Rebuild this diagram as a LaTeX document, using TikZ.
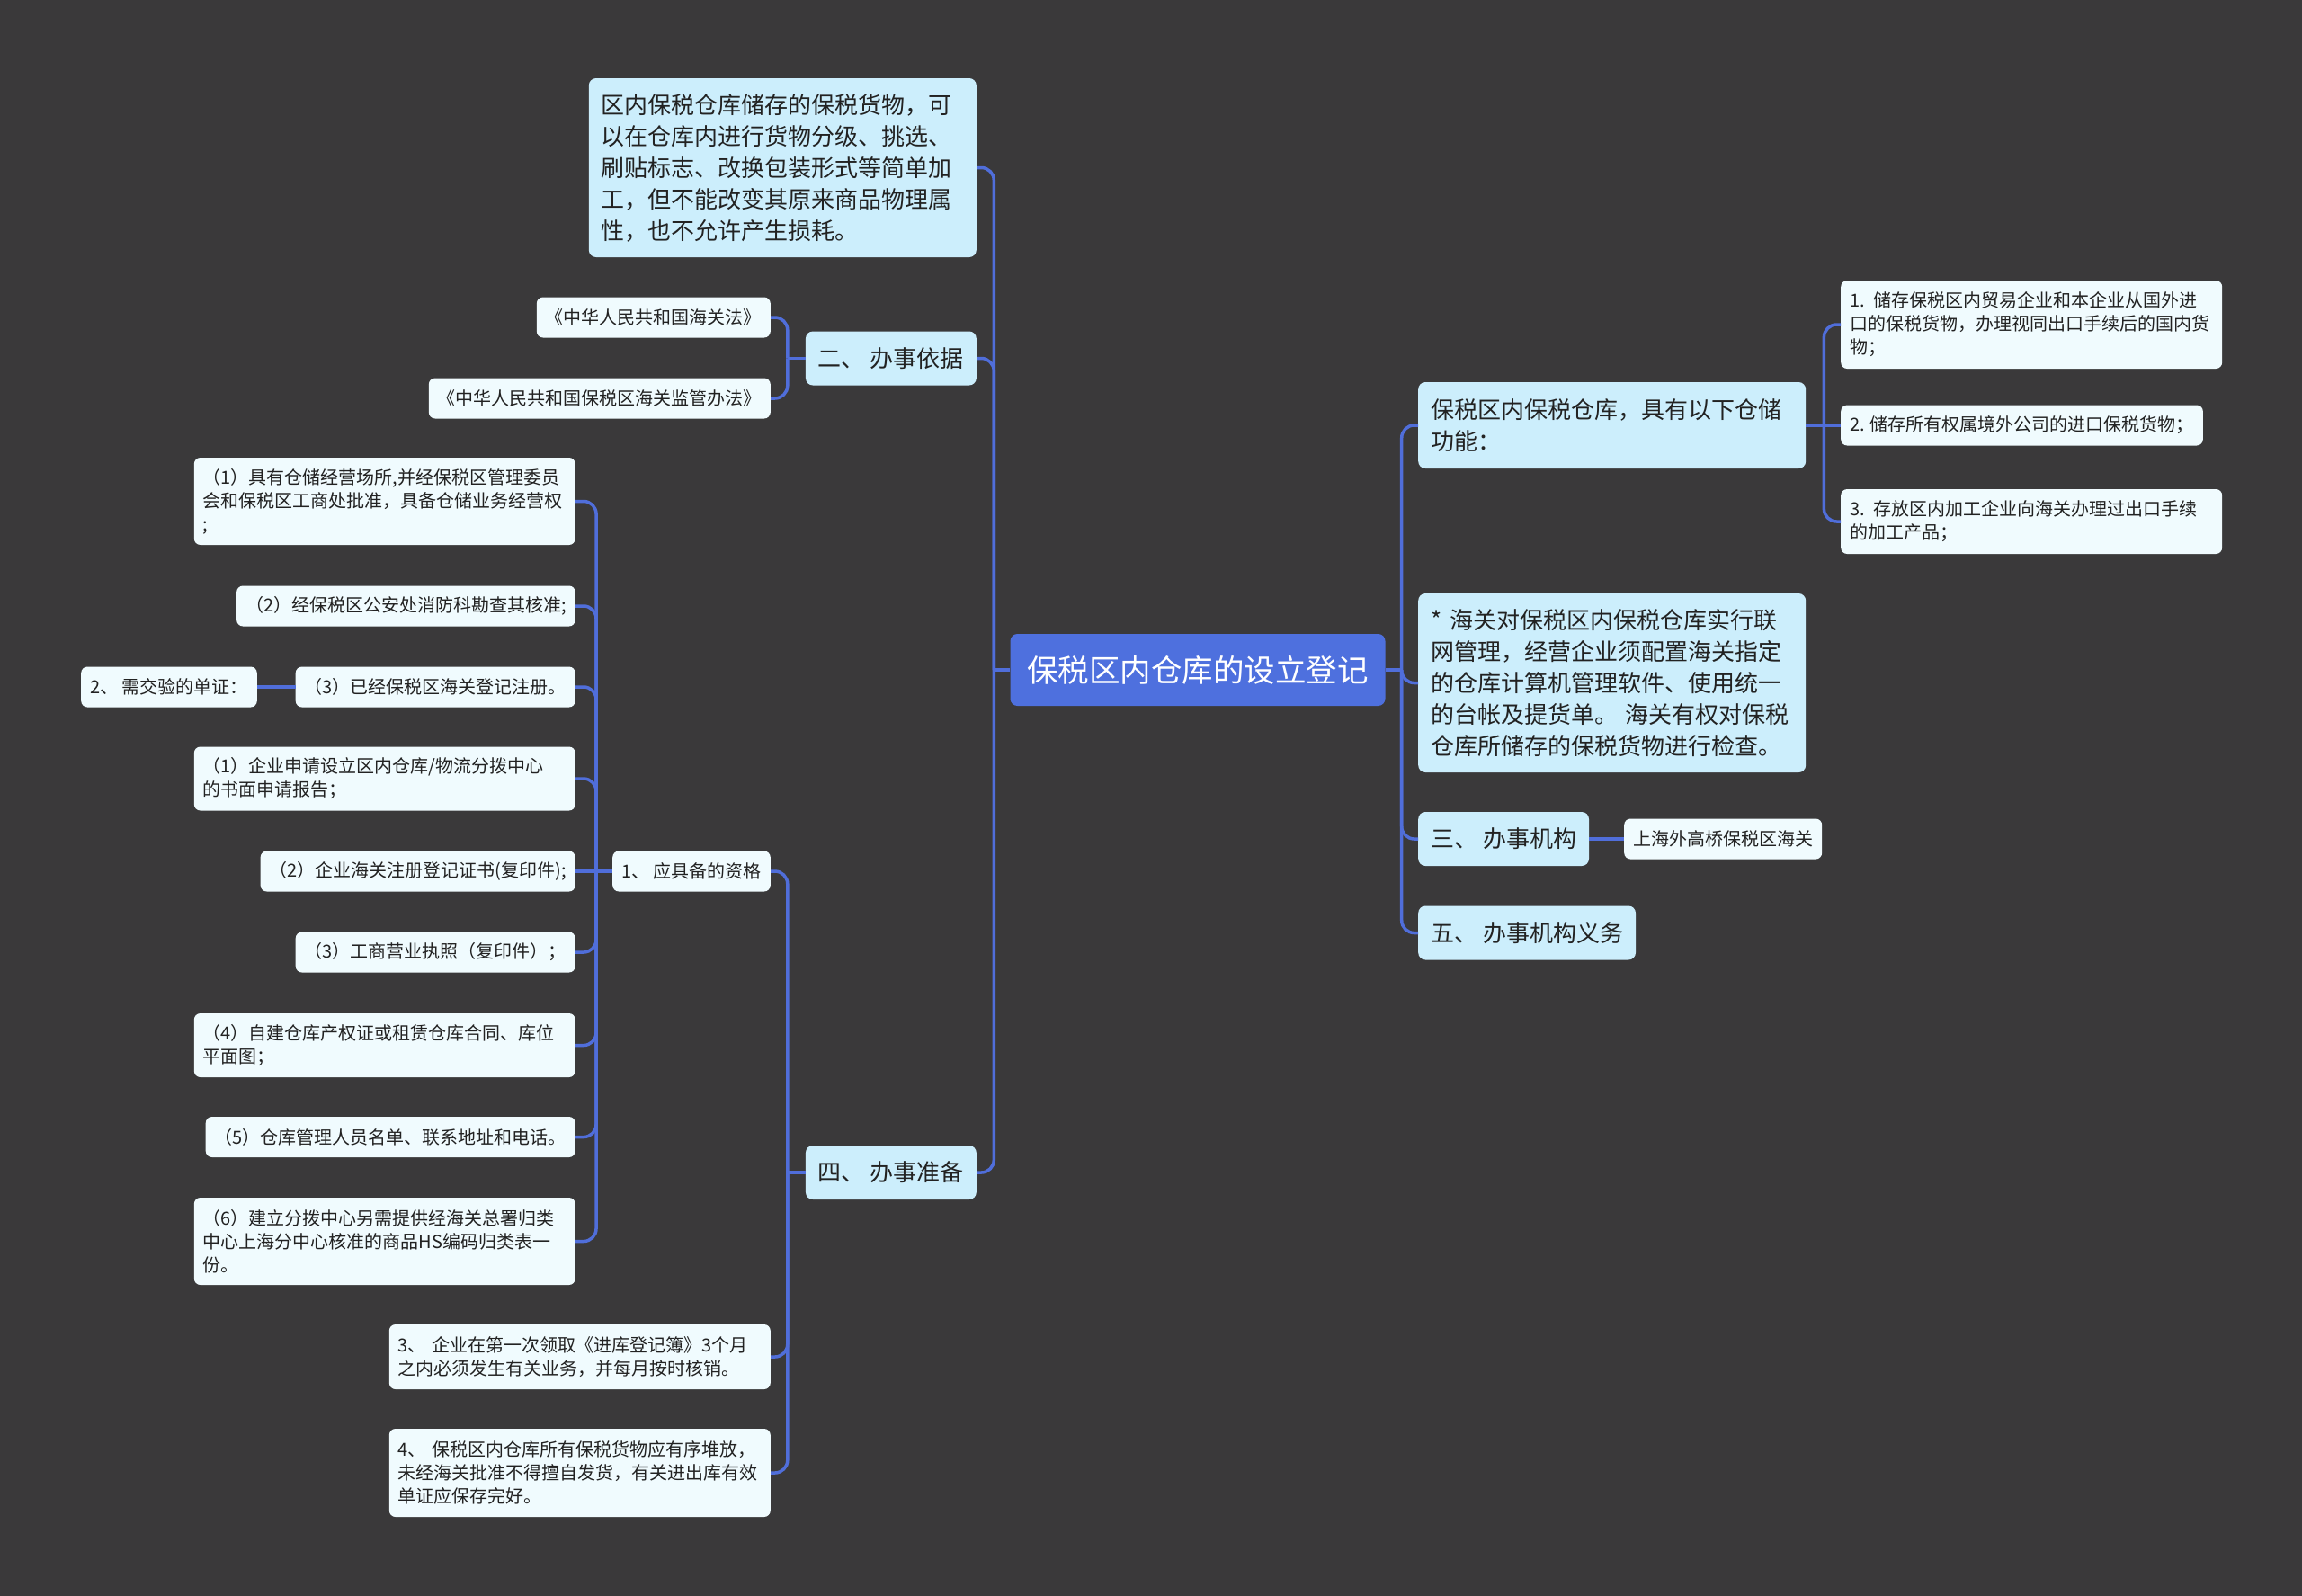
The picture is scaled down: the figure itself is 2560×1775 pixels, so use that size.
\documentclass[tikz,border=0pt]{standalone}
\usepackage{fontspec}
\setmainfont{Noto Sans CJK SC}
\definecolor{bgcol}{RGB}{58,57,58}
\definecolor{rootcol}{RGB}{78,112,222}
\definecolor{topiccol}{RGB}{204,238,252}
\definecolor{leafcol}{RGB}{240,251,254}
\definecolor{linkcol}{RGB}{80,110,218}
\definecolor{inkcol}{RGB}{34,34,34}
\begin{document}
\begin{tikzpicture}[x=1pt, y=-1pt,
  root/.style={fill=rootcol, text=white, rounded corners=8pt, font=\fontsize{34.5}{40}\selectfont, inner xsep=14pt, inner ysep=0pt, minimum width=417pt, minimum height=80pt},
  topic/.style={fill=topiccol, text=inkcol, rounded corners=8pt, font=\fontsize{26}{35}\selectfont, inner xsep=14pt, inner ysep=0pt, minimum height=#1},
  topic/.default=60pt,
  topicpar/.style={topic=#1, text width=403pt, align=left},
  leaf/.style={fill=leafcol, text=inkcol, rounded corners=7pt, font=\fontsize{20}{26}\selectfont, inner xsep=10pt, inner ysep=0pt, minimum height=#1},
  leaf/.default=45pt,
  leafpar/.style={leaf=#1, text width=404pt, align=left},
  link/.style={draw=linkcol, line width=3.5pt, rounded corners=14pt}]
  \fill[bgcol] (0,0) rectangle (2560,1775);
  \useasboundingbox (0,0) rectangle (2560,1775);

  \node[root] (root) at (1332,745) {保税区内仓库的设立登记};

  \node[topicpar=199pt, anchor=east] (qunei) at (1086,186.5) {区内保税仓库储存的保税货物，可\\以在仓库内进行货物分级、挑选、\\刷贴标志、改换包装形式等简单加\\工，但不能改变其原来商品物理属\\性，也不允许产生损耗。};
  \node[topic, anchor=east] (yiju) at (1086,398.5) {二、 办事依据};
  \node[leaf, anchor=east] (fa1) at (857,353) {《中华人民共和国海关法》};
  \node[leaf, anchor=east] (fa2) at (857,443) {《中华人民共和国保税区海关监管办法》};
  \node[topic, anchor=east] (zhunbei) at (1086,1304) {四、 办事准备};
  \node[leaf, anchor=east] (zige) at (857,969) {1、 应具备的资格};
  \node[leafpar=72pt, anchor=east] (lingqu) at (857,1509) {3、 企业在第一次领取《进库登记簿》3个月\\之内必须发生有关业务，并每月按时核销。};
  \node[leafpar=98pt, anchor=east] (duifang) at (857,1638) {4、 保税区内仓库所有保税货物应有序堆放，\\未经海关批准不得擅自发货，有关进出库有效\\单证应保存完好。};

  \node[leafpar=97pt, anchor=east] (z1) at (640,557.5) {（1）具有仓储经营场所,并经保税区管理委员\\会和保税区工商处批准，具备仓储业务经营权\\;};
  \node[leaf, anchor=east] (z2) at (640,674) {（2）经保税区公安处消防科勘查其核准;};
  \node[leaf, anchor=east] (z3) at (640,764) {（3）已经保税区海关登记注册。};
  \node[leaf, anchor=east] (danzheng) at (286,764) {2、 需交验的单证：};
  \node[leafpar=71pt, anchor=east] (d1) at (640,866) {（1）企业申请设立区内仓库/物流分拨中心\\的书面申请报告；};
  \node[leaf, anchor=east] (d2) at (640,969) {（2）企业海关注册登记证书(复印件);};
  \node[leaf, anchor=east] (d3) at (640,1059) {（3）工商营业执照（复印件）；};
  \node[leafpar=71pt, anchor=east] (d4) at (640,1162.5) {（4）自建仓库产权证或租赁仓库合同、库位\\平面图；};
  \node[leaf, anchor=east] (d5) at (640,1264.5) {（5）仓库管理人员名单、联系地址和电话。};
  \node[leafpar=97pt, anchor=east] (d6) at (640,1380.5) {（6）建立分拨中心另需提供经海关总署归类\\中心上海分中心核准的商品HS编码归类表一\\份。};

  \node[topicpar=96pt, anchor=west] (gongneng) at (1577,473) {保税区内保税仓库，具有以下仓储\\功能：};
  \node[leafpar=98pt, anchor=west] (gn1) at (2047,361) {1. 储存保税区内贸易企业和本企业从国外进\\口的保税货物，办理视同出口手续后的国内货\\物；};
  \node[leaf, anchor=west] (gn2) at (2047,473) {2. 储存所有权属境外公司的进口保税货物；};
  \node[leafpar=72pt, anchor=west] (gn3) at (2047,580) {3. 存放区内加工企业向海关办理过出口手续\\的加工产品；};
  \node[topicpar=199pt, anchor=west] (lianwang) at (1577,759.5) {* 海关对保税区内保税仓库实行联\\网管理，经营企业须配置海关指定\\的仓库计算机管理软件、使用统一\\的台帐及提货单。 海关有权对保税\\仓库所储存的保税货物进行检查。};
  \node[topic, anchor=west] (jigou) at (1577,933) {三、 办事机构};
  \node[leaf, anchor=west] (haiguan) at (1806,933) {上海外高桥保税区海关};
  \node[topic, anchor=west] (yiwu) at (1577,1037.5) {五、 办事机构义务};

  \draw[link] (root.west) -- ++(-18,0) coordinate (jl);
  \foreach \c in {qunei,yiju,zhunbei} \draw[link] (jl) |- (\c.east);
  \draw[link] (root.east) -- ++(18,0) coordinate (jr);
  \foreach \c in {gongneng,lianwang,jigou,yiwu} \draw[link] (jr) |- (\c.west);
  \draw[link] (yiju.west) -- ++(-20,0) coordinate (jy);
  \foreach \c in {fa1,fa2} \draw[link] (jy) |- (\c.east);
  \draw[link] (zhunbei.west) -- ++(-20,0) coordinate (jz);
  \foreach \c in {zige,lingqu,duifang} \draw[link] (jz) |- (\c.east);
  \draw[link] (zige.west) -- ++(-18,0) coordinate (jq);
  \foreach \c in {z1,z2,z3,d1,d3,d4,d5,d6} \draw[link] (jq) |- (\c.east);
  \draw[link] (jq) -- (d2.east);
  \draw[link] (z3) -- (danzheng);
  \draw[link] (gongneng.east) -- ++(20,0) coordinate (jg);
  \foreach \c in {gn1,gn3} \draw[link] (jg) |- (\c.west);
  \draw[link] (jg) -- (gn2.west);
  \draw[link] (jigou) -- (haiguan);
\end{tikzpicture}
\end{document}
